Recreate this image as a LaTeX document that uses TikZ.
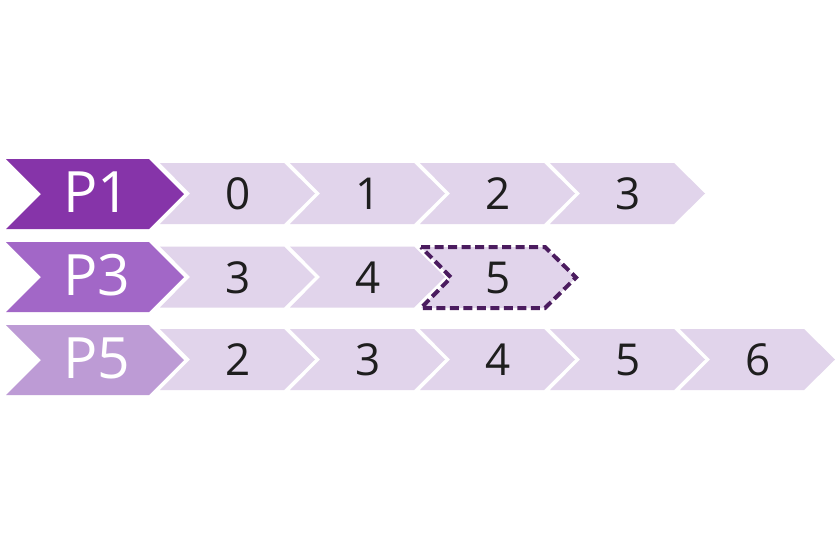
\documentclass[tikz,border=0pt]{standalone}
\usepackage{fontspec}
\setmainfont{Open Sans}
\definecolor{pone}{HTML}{8634A9}
\definecolor{pthree}{HTML}{A267C7}
\definecolor{pfive}{HTML}{BD9BD5}
\definecolor{light}{HTML}{E1D4EB}
\definecolor{dashc}{HTML}{4B1C5F}
\definecolor{numc}{HTML}{1E1E1E}
\tikzset{
  headlbl/.style={text=white,font=\fontsize{57}{57}\selectfont,inner sep=0pt,anchor=base},
  numlbl/.style={text=numc,font=\fontsize{44}{44}\selectfont,inner sep=0pt,anchor=base},
}
% head chevron: #1 x0, #2 center y, #3 colour
\newcommand\headchev[3]{%
  \fill[#3] (#1,#2-35) -- ++(143,0) -- ++(35,35) -- ++(-35,35) -- ++(-143,0) -- ++(35,-35) -- cycle;}
% light chevron body: #1 x0, #2 center y, #3 options
\newcommand\lightpath[3]{%
  \path[#3] (#1,#2-30.5) -- ++(124,0) -- ++(31,30.5) -- ++(-31,30.5) -- ++(-124,0) -- ++(30,-30.5) -- cycle;}
\begin{document}
\begin{tikzpicture}[x=1pt,y=-1pt]
\useasboundingbox (0,0) rectangle (835,554);
\fill[white] (0,0) rectangle (835,554);
% row 1
\headchev{6}{194}{pone}
\node[headlbl] (p1) at (97,212.5) {P1};
\foreach \i/\t in {0/0,1/1,2/2,3/3}{
  \lightpath{160+130*\i}{193.5}{fill=light}
  \node[numlbl] (r1n\i) at (238+130*\i,209.5) {\t};
}
% row 2
\headchev{6}{277}{pthree}
\node[headlbl] (p3) at (97,295.5) {P3};
\foreach \i/\t in {0/3,1/4}{
  \lightpath{160+130*\i}{277}{fill=light}
  \node[numlbl] (r2n\i) at (238+130*\i,293) {\t};
}
\lightpath{421}{277.5}{fill=light,draw=dashc,line width=4pt,dash pattern=on 9pt off 4.5pt}
\node[numlbl] (r2n2) at (498,293) {5};
% row 3
\headchev{6}{360}{pfive}
\node[headlbl] (p5) at (97,378.5) {P5};
\foreach \i/\t in {0/2,1/3,2/4,3/5,4/6}{
  \lightpath{160+130*\i}{359.5}{fill=light}
  \node[numlbl] (r3n\i) at (238+130*\i,375.5) {\t};
}
\end{tikzpicture}
\end{document}
